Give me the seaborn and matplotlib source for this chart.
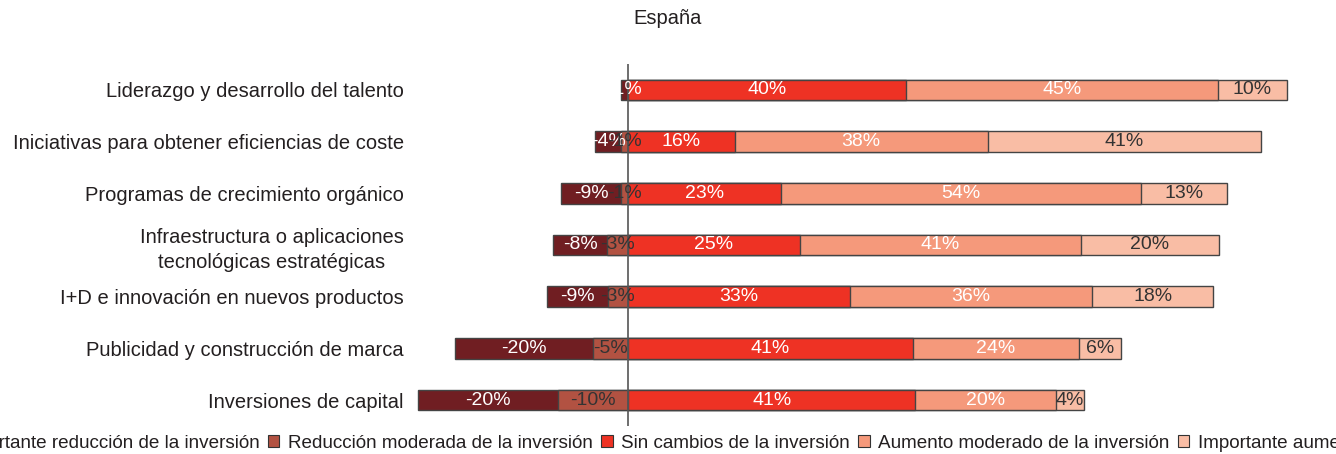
import numpy as np
import pandas as pd
import seaborn as sns
import matplotlib.pyplot as plt
from matplotlib.patches import Patch

# data (labels as printed, bars are drawn as share of each row)
categories = [
    "Liderazgo y desarrollo del talento",
    "Iniciativas para obtener eficiencias de coste",
    "Programas de crecimiento orgánico",
    "Infraestructura o aplicaciones\ntecnológicas estratégicas",
    "I+D e innovación en nuevos productos",
    "Publicidad y construcción de marca",
    "Inversiones de capital",
]
imp_red = [-1, -4, -9, -8, -9, -20, -20]
mod_red = [0, -1, -1, -3, -3, -5, -10]
sin_camb = [40, 16, 23, 25, 33, 41, 41]
aum_mod = [45, 38, 54, 41, 36, 24, 20]
imp_aum = [10, 41, 13, 20, 18, 6, 4]

series_names = [
    "Importante reducción de la inversión",
    "Reducción moderada de la inversión",
    "Sin cambios de la inversión",
    "Aumento moderado de la inversión",
    "Importante aumento de la inversión",
]
colors = ["#701e22", "#b25242", "#ee3224", "#f5997b", "#f9bda5"]
text_colors = ["white", "#333333", "white", "white", "#333333"]

sns.set_theme(style="white")
plt.rcParams["font.family"] = ["Liberation Sans", "DejaVu Sans"]

df = pd.DataFrame({"imp_red": imp_red, "mod_red": mod_red, "sin": sin_camb,
                   "aum": aum_mod, "imp_aum": imp_aum}, index=categories)
totals = df.abs().sum(axis=1)
share = df.div(totals, axis=0) * 100

fig = plt.figure(figsize=(13.36, 4.54), dpi=100)
ax = fig.add_axes([0.3106, 0.062, 0.658, 0.797])

# stacked bars: draw cumulative extents, outermost first
layers = [
    (share["imp_red"] + share["mod_red"], colors[0]),
    (share["mod_red"], colors[1]),
    (share["sin"] + share["aum"] + share["imp_aum"], colors[4]),
    (share["sin"] + share["aum"], colors[3]),
    (share["sin"], colors[2]),
]
for vals, col in layers:
    sns.barplot(x=vals.values, y=categories, orient="h", color=col, saturation=1,
                edgecolor="#444444", linewidth=1, width=0.4, ax=ax)

# value labels centred in each segment
for i, cat in enumerate(categories):
    m, r = share.loc[cat, "mod_red"], share.loc[cat, "imp_red"]
    s, a, b = share.loc[cat, "sin"], share.loc[cat, "aum"], share.loc[cat, "imp_aum"]
    centers = [m + r / 2, m / 2, s / 2, s + a / 2, s + a + b / 2]
    originals = df.loc[cat].values
    for k in range(5):
        if originals[k] == 0:
            continue
        ax.text(centers[k], i, f"{originals[k]}%", ha="center", va="center",
                color=text_colors[k], fontsize=14, zorder=6)

ax.axvline(0, color="#555555", lw=1.2, zorder=5)
ax.set_xlim(-32, 100)
ax.set_ylim(6.5, -0.5)
ax.set_xticks([])
ax.set_xlabel("")
ax.set_ylabel("")
sns.despine(ax=ax, left=True, bottom=True)
ax.tick_params(axis="y", length=0, pad=8, labelsize=14.5, labelcolor="#231f20")
for lab in ax.get_yticklabels():
    lab.set_multialignment("center")
    lab.set_linespacing(1.4)

fig.text(0.5, 1 - 18 / 454, "España", ha="center", va="center", fontsize=14.5, color="#231f20")

handles = [Patch(facecolor=c, edgecolor="#333333", linewidth=0.8) for c in colors]
fig.legend(handles, series_names, loc="center", bbox_to_anchor=(0.535, 0.024), ncol=5,
           frameon=False, fontsize=13.6, handlelength=0.6, handleheight=0.6,
           handletextpad=0.45, columnspacing=0.45, labelcolor="#231f20")

fig.savefig("out.png", dpi=100)
